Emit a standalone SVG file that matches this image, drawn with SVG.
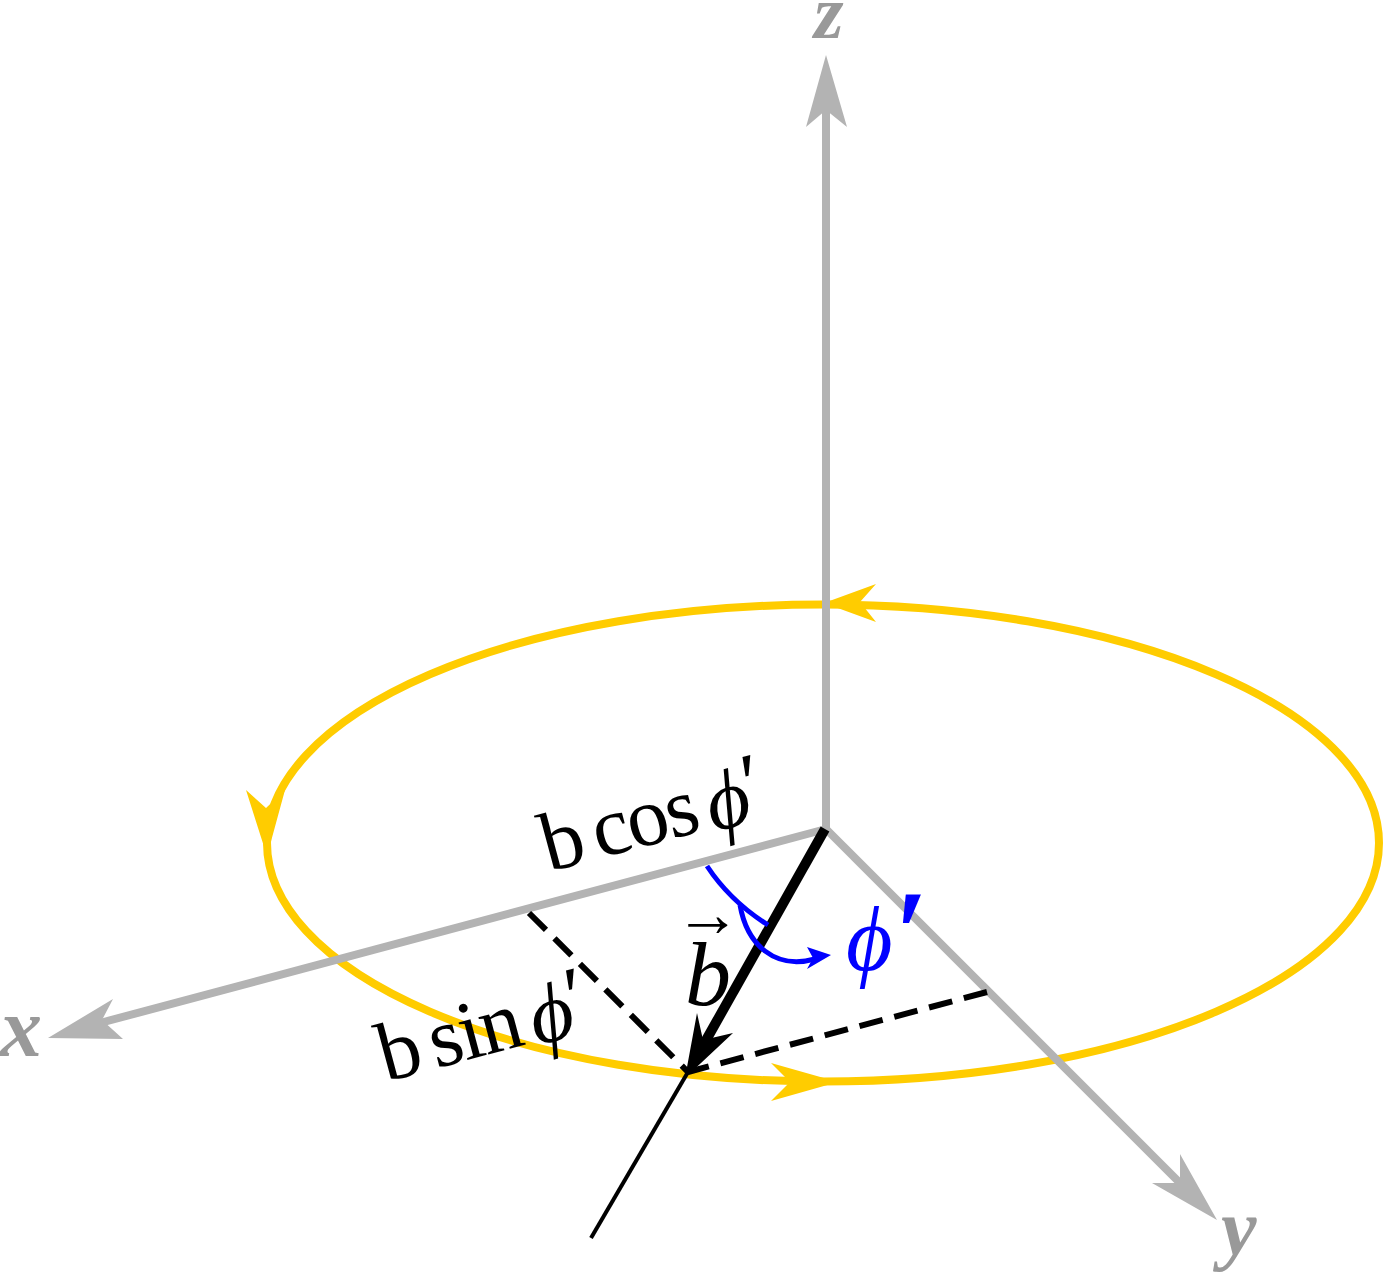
<svg xmlns="http://www.w3.org/2000/svg" width="1384" height="1273" viewBox="0 0 1384 1273">
<style>
.gold{fill:none;stroke:#ffcc00;stroke-width:8}
.goldh{fill:#ffcc00}
.ax{stroke:#b3b3b3;stroke-width:8;fill:none}
.axh{fill:#b3b3b3}
.lab{font-family:"Liberation Serif",serif;font-style:italic;font-weight:bold;fill:#999;font-size:84px}
.m{font-family:"Liberation Serif",serif;fill:#000;font-size:84px}
.i{font-style:italic}
.dash{stroke:#000;stroke-width:6;stroke-dasharray:24 12;fill:none}
.blue{fill:none;stroke:#0000ff;stroke-width:5}
</style>
<rect width="1384" height="1273" fill="#fff"/>
<g id="orbit">
<ellipse class="gold" cx="823" cy="843" rx="556" ry="238.5"/>
<path class="goldh" d="M824 603L876 584L860 602L876 622Z"/>
<path class="goldh" d="M267 856L246 790L266 808L285 790Z"/>
<path class="goldh" d="M838 1082L771 1063L790 1082L771 1101Z"/>
</g>
<g id="connectors">
<line class="ax" x1="826" y1="829" x2="826" y2="105"/>
<line class="ax" x1="826" y1="829" x2="100" y2="1023"/>
<line class="ax" x1="826" y1="829" x2="1185" y2="1188"/>
<path class="axh" d="M826 55L847 127L826 110L806 127Z"/>
<path class="axh" d="M48 1038L113 999L102 1020L123 1039Z"/>
<path class="axh" d="M1217 1220L1180 1154L1180 1183L1152 1183Z"/>
<line class="dash" x1="529" y1="913" x2="688" y2="1072"/>
<line class="dash" x1="987" y1="992" x2="688" y2="1072"/>
<line x1="825" y1="829" x2="705" y2="1042" stroke="#000" stroke-width="10"/>
<line x1="688" y1="1072" x2="591" y2="1238" stroke="#000" stroke-width="4"/>
<path d="M685 1078L697 1013L703 1040L733 1033Z" fill="#000"/>
<path class="blue" d="M707 866Q730 901 768 925"/>
<path class="blue" d="M740 905C747 945 775 970 815 959"/>
<path d="M831 955L807 947L813 958L807 969Z" fill="#0000ff"/>
</g>
<g id="label-z"><text class="lab" x="814" y="38" style="font-size:76px">z</text></g>
<g id="label-x"><text class="lab" x="0" y="1056">x</text></g>
<g id="label-y"><text class="lab" x="1221" y="1255" style="font-size:80px">y</text></g>
<g id="label-bcos"><text class="m" transform="translate(549 872) rotate(-15)">b<tspan dx="10" letter-spacing="-2">cos</tspan><tspan class="i" dx="11" dy="4">ϕ</tspan><tspan dx="-2" dy="-10">′</tspan></text></g>
<g id="label-bsin"><text class="m" transform="translate(386 1082) rotate(-15)">b<tspan dx="10" letter-spacing="-2">sin</tspan><tspan class="i" dx="11" dy="4">ϕ</tspan><tspan dx="-2" dy="-10">′</tspan></text></g>
<g id="label-bvec"><text class="m i" x="685" y="1005" style="font-size:92px">b</text><text class="m" x="675" y="936" style="font-size:66px">→</text></g>
<g id="label-phi"><text x="846" y="970" font-family="Liberation Serif,serif" font-style="italic" font-size="90" fill="#0000ff">ϕ</text><text x="895" y="974" font-family="Liberation Serif,serif" font-weight="bold" font-size="120" fill="#0000ff">′</text></g>
</svg>
